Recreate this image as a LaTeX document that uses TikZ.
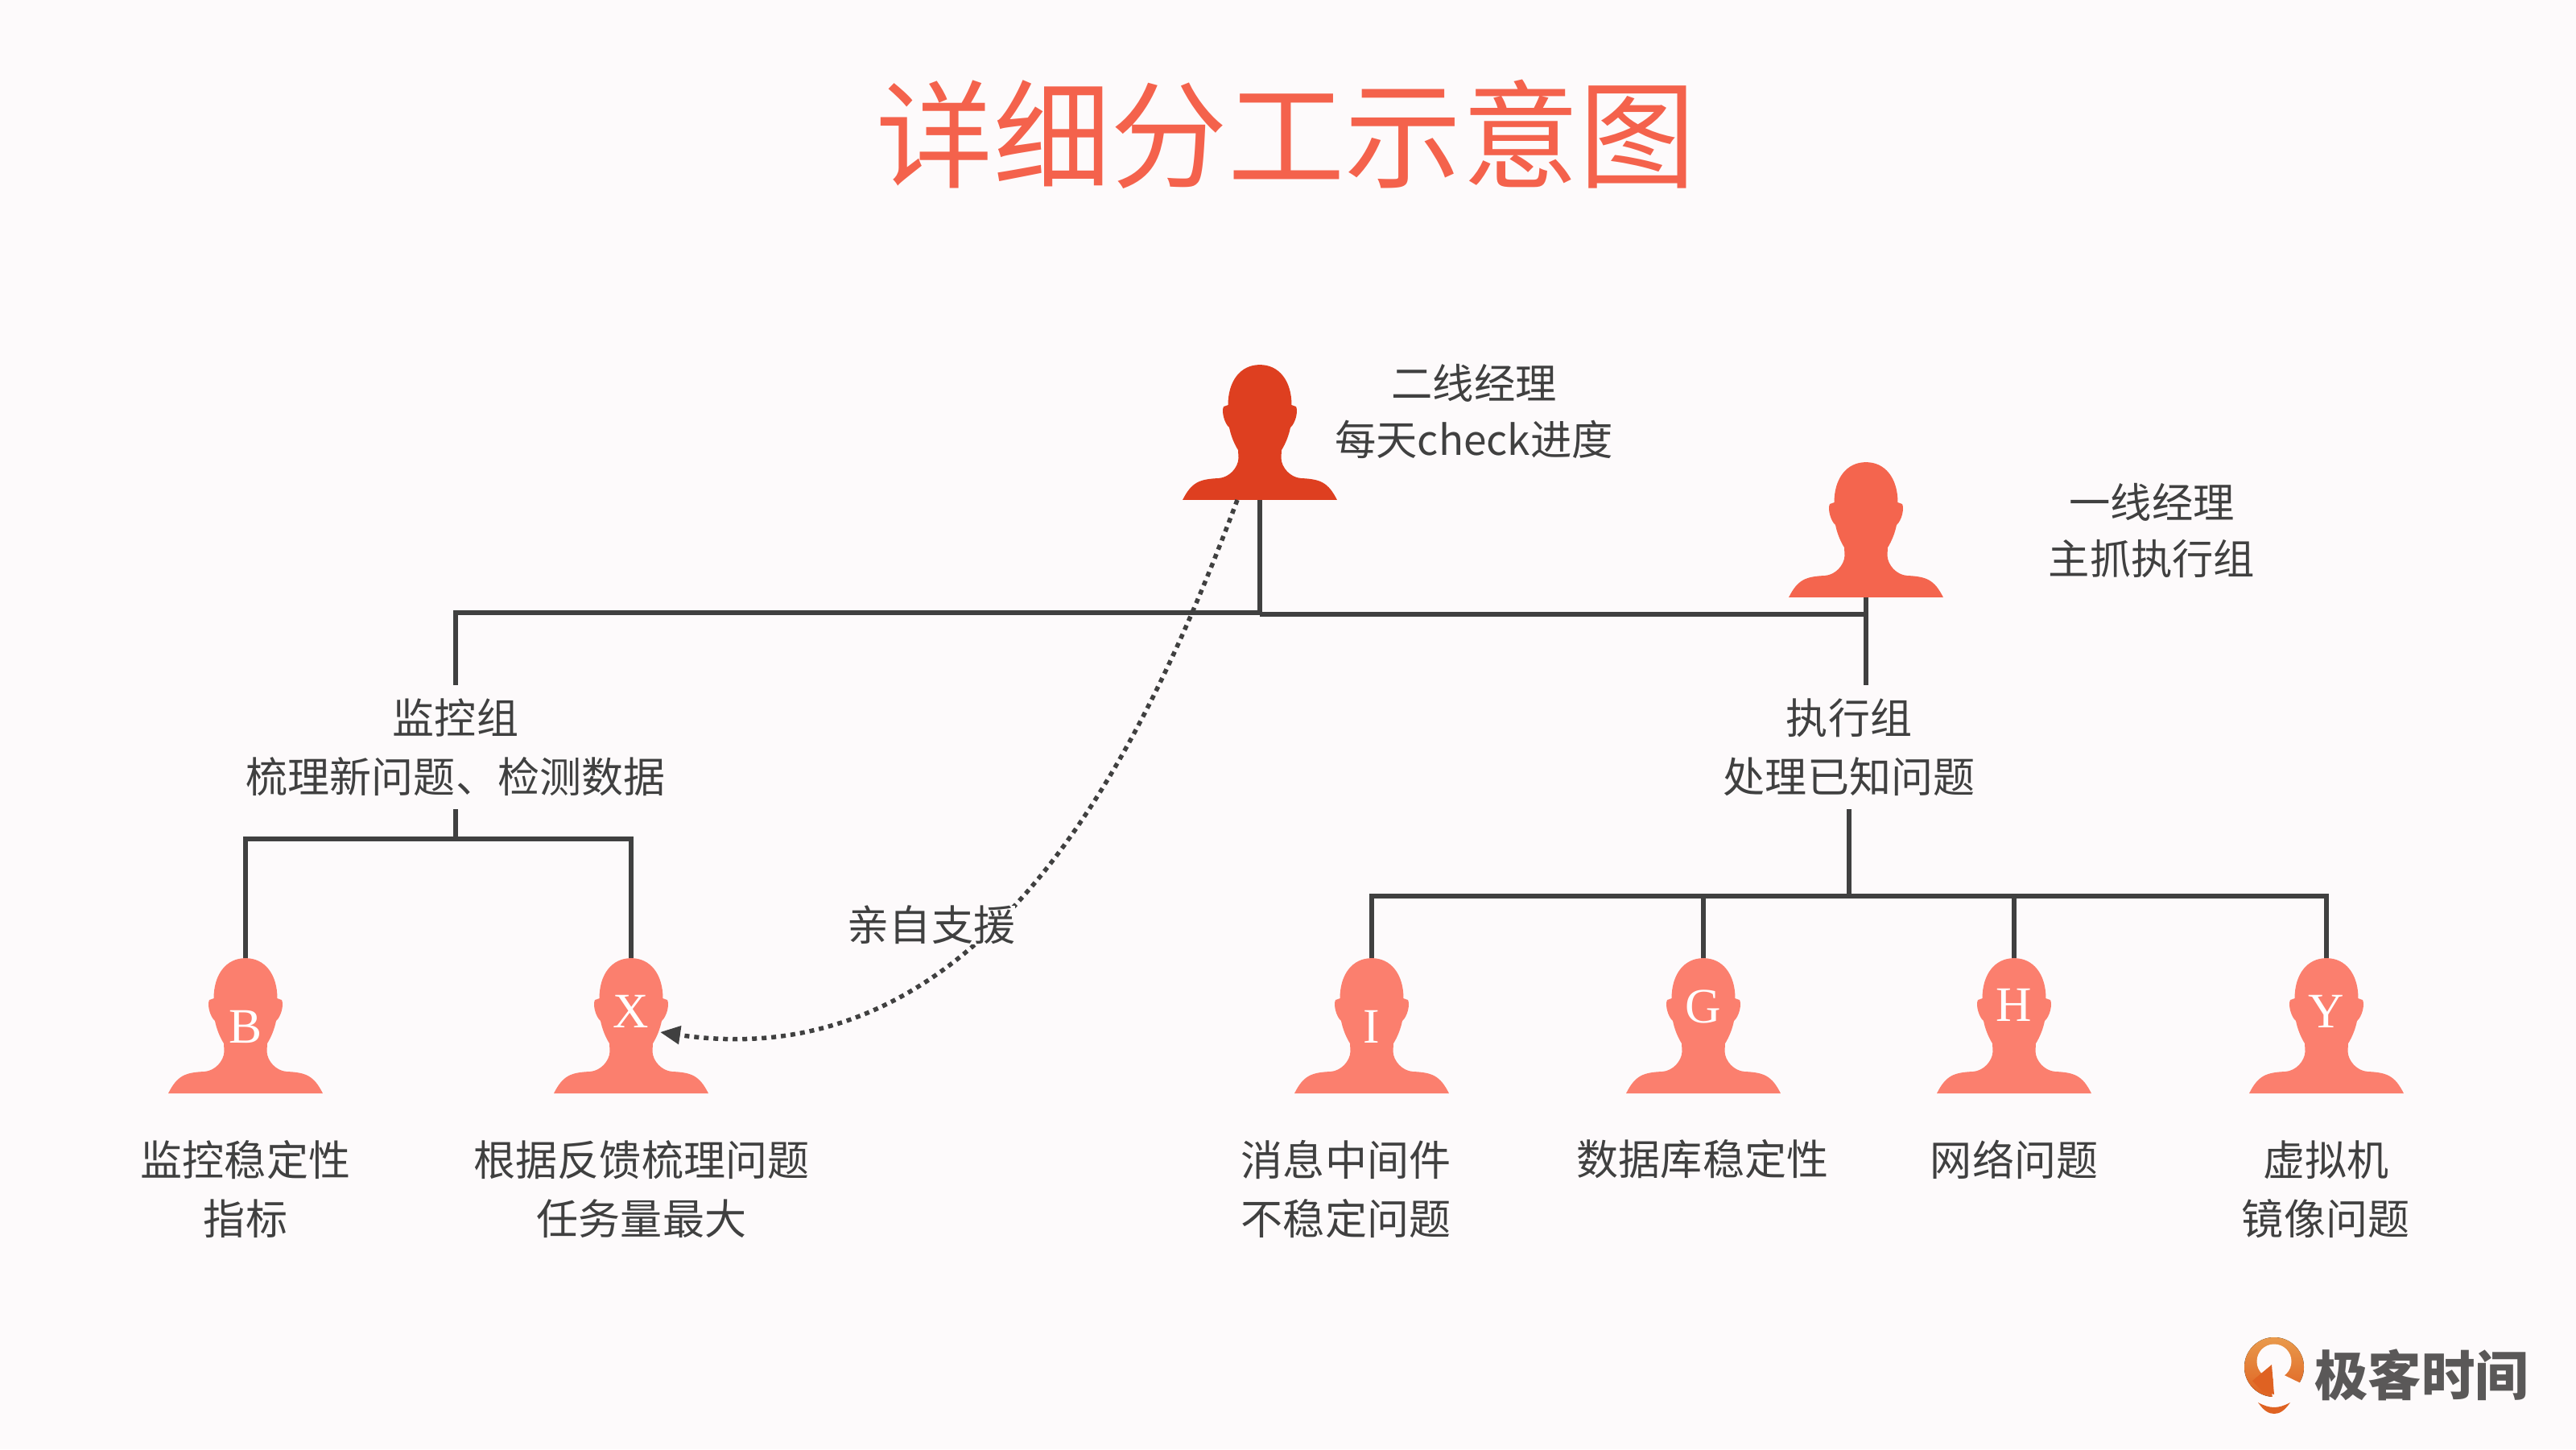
\documentclass[tikz,border=0pt]{standalone}
\usepackage{fontspec}
\setmainfont{Noto Sans CJK SC}
\newfontfamily\tagfont{Liberation Serif}
\usetikzlibrary{arrows.meta}
\definecolor{pagebg}{HTML}{FDFAFB}
\definecolor{inkgray}{HTML}{404040}
\definecolor{logogray}{HTML}{5A5858}
\definecolor{titlered}{HTML}{F4624C}
\definecolor{bossred}{HTML}{DE3F20}
\definecolor{leadred}{HTML}{F4654E}
\definecolor{staffred}{HTML}{FB7F6E}
\definecolor{logotop}{HTML}{E99A4C}
\definecolor{logobottom}{HTML}{DF6222}
\tikzset{
  pics/person/.style={code={
    \fill[#1, x=0.01cm, y=0.01cm] (0,168) .. controls (24,168) and (39.5,148) .. (39.5,118)
      -- (45,116) .. controls (48,110) and (44,95) .. (38,90)
      .. controls (36,80) and (32,70) .. (27,62) -- (26.5,52)
      .. controls (27,40) and (38,28) .. (51,27) .. controls (75,26) and (85,22) .. (96,0)
      -- (-96,0) .. controls (-85,22) and (-75,26) .. (-51,27)
      .. controls (-38,28) and (-27,40) .. (-26.5,52) -- (-27,62)
      .. controls (-32,70) and (-36,80) .. (-38,90)
      .. controls (-44,95) and (-48,110) .. (-45,116) -- (-39.5,118)
      .. controls (-39.5,148) and (-24,168) .. (0,168) -- cycle;
    \coordinate (-top) at (0,1.68);
    \coordinate (-base) at (0,0);
    \coordinate (-ear) at (0.36,0.76);
  }}
}

\begin{document}
\begin{tikzpicture}[
  txt/.style={text=inkgray, align=center, font=\fontsize{14.8}{20.8}\selectfont, inner sep=0pt},
  headtxt/.style={txt, font=\fontsize{14.6}{19.9}\selectfont},
  grouplabel/.style={txt, minimum width=5cm, minimum height=1.53cm},
  tagletter/.style={text=white, inner sep=0pt, font=\fontsize{17.5}{17.5}\selectfont\tagfont},
  link/.style={draw=inkgray, line width=0.058cm},
  dots/.style={draw=inkgray, line width=0.055cm, dash pattern=on 0.06cm off 0.06cm, -{Triangle[length=0.25cm, width=0.22cm]}}
]
\path[fill=pagebg, use as bounding box] (0,0) rectangle (32,18);

% Title
\node[text=titlered, inner sep=0pt, font=\fontsize{41.4}{41.4}\selectfont] (title) at (15.98, 16.33) {详细分工示意图};

% Managers
\pic (boss) at (15.65, 11.79) {person=bossred};
\pic (lead) at (23.18, 10.58) {person=leadred};
\node[headtxt] (bosstext) at (18.31, 12.89) {二线经理\\每天check进度};
\node[headtxt] (leadtext) at (26.73, 11.41) {一线经理\\主抓执行组};

% Group labels
\node[grouplabel] (monitor) at (5.66, 8.72) {监控组\\梳理新问题、检测数据};
\node[grouplabel] (execute) at (22.97, 8.72) {执行组\\处理已知问题};

% Junctions
\coordinate (bar) at (15.65, 10.39);
\coordinate (barright) at (15.65, 10.37);
\coordinate (monbar) at (5.66, 7.58);
\coordinate (exebar) at (22.97, 6.87);

% Staff row
\foreach \n/\x/\letter/\ly in {b/3.05/B/5.25, x/7.84/X/5.44, i/17.04/I/5.25, g/21.16/G/5.50, h/25.02/H/5.52, y/28.90/Y/5.44} {
  \pic (\n) at (\x, 4.42) {person=staffred};
  \node[tagletter] (\n tag) at (\x, \ly) {\letter};
}

% Staff labels
\node[txt] (btext) at (3.05, 3.23) {监控稳定性\\指标};
\node[txt] (xtext) at (7.97, 3.23) {根据反馈梳理问题\\任务量最大};
\node[txt] (itext) at (16.72, 3.23) {消息中间件\\不稳定问题};
\node[txt] (gtext) at (21.15, 3.60) {数据库稳定性};
\node[txt] (htext) at (25.02, 3.60) {网络问题};
\node[txt] (ytext) at (28.89, 3.23) {虚拟机\\镜像问题};

% Reporting lines
\draw[link] (boss-base) -- (barright);
\draw[link] (monitor.north) |- (bar);
\draw[link] (lead-base) |- (barright);
\draw[link] (lead-base |- barright) -- (lead-base |- execute.north);

% Monitoring group
\draw[link] (monitor.south) -- (monbar);
\foreach \n in {b, x} {
  \draw[link] (\n-top) |- (monbar);
}

% Execution group
\draw[link] (execute.south) -- (exebar);
\foreach \n in {i, g, h, y} {
  \draw[link] (\n-top) |- (exebar);
}

% Direct support
\draw[dots] ([xshift=-0.28cm]boss-base) .. controls (14.10, 8.40) and (12.15, 4.60) .. (x-ear);
\node[txt, fill=pagebg] (support) at (11.57, 6.51) {亲自支援};

% Logo
\fill[top color=logotop, bottom color=logobottom] (28.25, 1.02) circle (0.37);
\fill[pagebg] (28.25, 1.09) circle (0.215);
\fill[pagebg] (28.25, 0.98) -- (28.62, 0.80) -- (28.42, 0.62) -- (28.25, 0.55) -- (28.22, 0.70) -- cycle;
\fill[logobottom] (27.98, 0.85) -- (28.22, 1.05) -- (28.25, 0.68) -- (28.10, 0.72) -- cycle;
\fill[logobottom] (28.05, 0.58) .. controls (28.20, 0.50) and (28.30, 0.50) .. (28.45, 0.58) .. controls (28.38, 0.48) and (28.32, 0.44) .. (28.25, 0.44) .. controls (28.18, 0.44) and (28.12, 0.48) .. (28.05, 0.58) -- cycle;
\node[text=logogray, inner sep=0pt, font=\fontsize{18.9}{18.9}\selectfont\bfseries] (logotext) at (30.08, 0.92) {极客时间};
\end{tikzpicture}
\end{document}
